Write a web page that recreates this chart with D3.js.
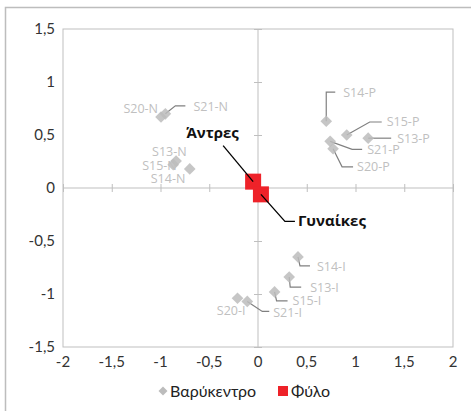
<!DOCTYPE html>
<html><head><meta charset="utf-8">
<script src="https://cdn.jsdelivr.net/npm/d3@7/dist/d3.min.js"></script>
<style>body{margin:0;background:#fff;}svg{display:block;}</style>
</head><body><svg id="c" width="471" height="411"></svg>
<script>
// ---- data ----
const centroidNames = ["S14-P","S15-P","S13-P","S21-P","S20-P",
                       "S14-I","S13-I","S15-I","S20-I","S21-I",
                       "S20-N","S21-N","S13-N","S15-N","S14-N"];
const centroidX = [0.70,0.91,1.13,0.74,0.77, 0.41,0.32,0.17,-0.21,-0.11, -0.995,-0.95,-0.84,-0.87,-0.70];
const centroidY = [0.63,0.50,0.47,0.44,0.37, -0.65,-0.84,-0.98,-1.04,-1.07, 0.67,0.70,0.255,0.22,0.18];
const sexNames = ["Άντρες","Γυναίκες"];
const sexX = [-0.05, 0.03];
const sexY = [0.06, -0.06];
const xTicks = [-2,-1.5,-1,-0.5,0,0.5,1,1.5,2];
const yTicks = [-1.5,-1,-0.5,0,0.5,1,1.5];
const legendLabels = ["Βαρύκεντρο","Φύλο"];

// ---- label layout (pixel offsets from the point) ----
const centroidLabelLayout = [
  {leader:[[0,0],[0,-29],[9,-29]], t:[17,-29], a:"start"},
  {leader:[[0,0],[23,-13],[35,-13]], t:[40,-13], a:"start"},
  {leader:[[0,0],[23,0]], t:[29,0], a:"start"},
  {leader:[[0,0],[22,8],[32,8]], t:[37,8], a:"start"},
  {leader:[[0,0],[9,18],[20,18]], t:[24,18], a:"start"},
  {leader:[[0,0],[2,9],[12,9]], t:[19,10], a:"start"},
  {leader:[[0,0],[1,10],[12,10]], t:[21,11], a:"start"},
  {leader:[[0,0],[2,9],[13,9]], t:[18,9], a:"start"},
  {leader:null, t:[8,12], a:"end"},
  {leader:[[0,0],[15,10],[22,10]], t:[26,11], a:"start"},
  {leader:null, t:[-3,-8], a:"end"},
  {leader:[[0,0],[10,-8],[20,-8]], t:[28,-7], a:"start"},
  {leader:null, t:[-24,-9], a:"start"},
  {leader:null, t:[-31,1], a:"start"},
  {leader:null, t:[-39,10], a:"start"}
];
const sexLabelLayout = [
  {leader:[[0,0],[-30,-36]], t:[-67,-49], a:"start"},
  {leader:[[0,0],[24,27],[34,27]], t:[37,26], a:"start"}
];

const svg = d3.select("#c");
const x = d3.scaleLinear().domain([-2,2]).range([63,453]);
const y = d3.scaleLinear().domain([-1.5,1.5]).range([347,29]);
const fmt = v => String(v).replace(".", ",");
const gridC = "#bfbfbf";

// outer border
svg.append("rect").attr("x",5.5).attr("y",7.5).attr("width",520).attr("height",520)
  .attr("fill","none").attr("stroke","#bdbdbd").attr("stroke-width",1.5);

// plot frame
svg.append("rect").attr("x",x(-2)).attr("y",y(1.5)).attr("width",x(2)-x(-2)).attr("height",y(-1.5)-y(1.5))
  .attr("fill","none").attr("stroke",gridC).attr("stroke-width",1);

// zero axes with cross ticks
const xAx = d3.axisBottom(x).tickValues(xTicks).tickSize(8).tickFormat("");
const yAx = d3.axisLeft(y).tickValues(yTicks).tickSize(8).tickFormat("");
const gx = svg.append("g").attr("transform",`translate(0,${y(0)-4})`).call(xAx);
const gy = svg.append("g").attr("transform",`translate(${x(0)+4},0)`).call(yAx);
[gx,gy].forEach(g=>{g.select(".domain").remove(); g.selectAll("line").attr("stroke",gridC);});
svg.append("line").attr("x1",x(-2)).attr("x2",x(2)).attr("y1",y(0)).attr("y2",y(0)).attr("stroke",gridC);
svg.append("line").attr("x1",x(0)).attr("x2",x(0)).attr("y1",y(1.5)).attr("y2",y(-1.5)).attr("stroke",gridC);

// tick labels
const tf = "'Lato','Open Sans',sans-serif";
svg.append("g").selectAll("text").data(xTicks).join("text")
  .attr("x",d=>x(d)).attr("y",y(-1.5)+20).attr("text-anchor","middle")
  .attr("font-family",tf).attr("font-size",15).attr("fill","#333").text(fmt);
svg.append("g").selectAll("text").data(yTicks).join("text")
  .attr("x",55).attr("y",d=>y(d)+5).attr("text-anchor","end")
  .attr("font-family",tf).attr("font-size",15).attr("fill","#333").text(fmt);

// centroid leaders
const cent = centroidNames.map((n,i)=>({n, px:x(centroidX[i]), py:y(centroidY[i]), L:centroidLabelLayout[i]}));
const line = d3.line();
svg.append("g").selectAll("path").data(cent.filter(d=>d.L.leader)).join("path")
  .attr("d",d=>line(d.L.leader.map(p=>[d.px+p[0],d.py+p[1]])))
  .attr("fill","none").attr("stroke","#808080").attr("stroke-width",1.2);
// diamonds
svg.append("g").selectAll("path").data(cent).join("path")
  .attr("d",d3.symbol(d3.symbolSquare,68))
  .attr("transform",d=>`translate(${d.px},${d.py}) rotate(45)`)
  .attr("fill","#bcbcbc").attr("fill-opacity",0.85);
svg.append("g").selectAll("text").data(cent).join("text")
  .attr("x",d=>d.px+d.L.t[0]).attr("y",d=>d.py+d.L.t[1]).attr("dy","0.35em")
  .attr("text-anchor",d=>d.L.a)
  .attr("font-family","'Open Sans',sans-serif").attr("font-size",12.5).attr("fill","#c0c0c0")
  .text(d=>d.n);

// sex squares
const sex = sexNames.map((n,i)=>({n, px:x(sexX[i]), py:y(sexY[i]), L:sexLabelLayout[i]}));
svg.append("g").selectAll("rect").data(sex).join("rect")
  .attr("x",d=>d.px-8).attr("y",d=>d.py-8).attr("width",16).attr("height",16).attr("fill","#ee2229");
svg.append("g").selectAll("path").data(sex).join("path")
  .attr("d",d=>line(d.L.leader.map(p=>[d.px+p[0],d.py+p[1]])))
  .attr("fill","none").attr("stroke","#000").attr("stroke-width",1.3);
svg.append("g").selectAll("text").data(sex).join("text")
  .attr("x",d=>d.px+d.L.t[0]).attr("y",d=>d.py+d.L.t[1]).attr("dy","0.35em")
  .attr("font-family","'Open Sans',sans-serif").attr("font-weight","bold").attr("font-size",15).attr("fill","#111")
  .text(d=>d.n);

// legend
const lg = svg.append("g");
lg.append("path").attr("d",d3.symbol(d3.symbolSquare,40)).attr("transform","translate(163,391) rotate(45)").attr("fill","#bcbcbc");
lg.append("text").attr("x",170).attr("y",391).attr("dy","0.35em").attr("font-family",tf).attr("font-size",16).attr("fill","#222").text(legendLabels[0]);
lg.append("rect").attr("x",278).attr("y",386).attr("width",10).attr("height",10).attr("fill","#ee2229");
lg.append("text").attr("x",291).attr("y",391).attr("dy","0.35em").attr("font-family",tf).attr("font-size",16).attr("fill","#222").text(legendLabels[1]);
</script></body></html>
